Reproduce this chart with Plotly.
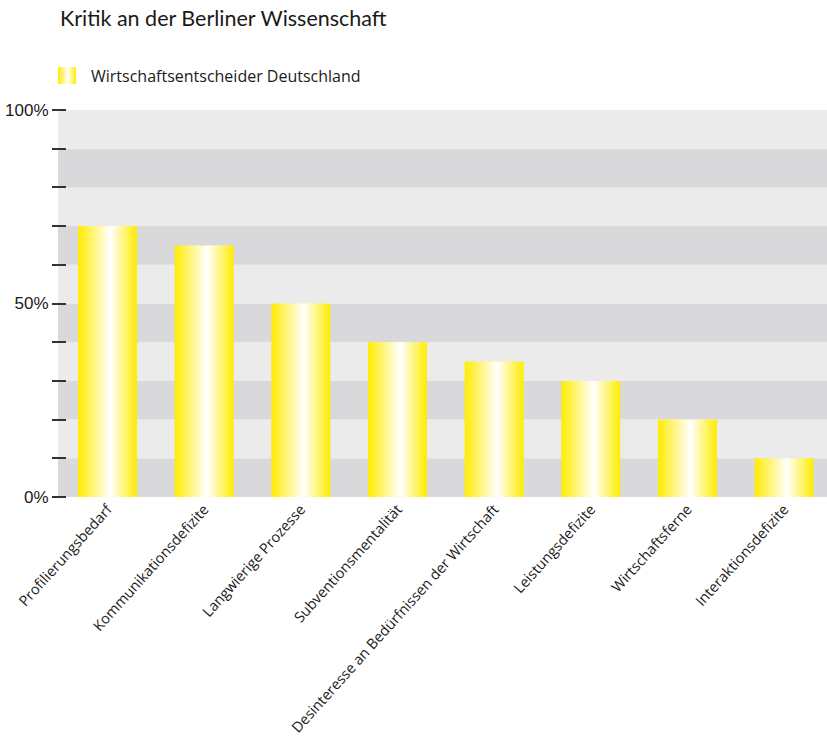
import plotly.graph_objects as go

# Survey results: criticism of Berlin's science sector
categories = [
    "Profilierungsbedarf",
    "Kommunikationsdefizite",
    "Langwierige Prozesse",
    "Subventionsmentalität",
    "Desinteresse an Bedürfnissen der Wirtschaft",
    "Leistungsdefizite",
    "Wirtschaftsferne",
    "Interaktionsdefizite",
]
values = [70, 65, 50, 40, 35, 30, 20, 10]
series_name = "Wirtschaftsentscheider Deutschland"
y_tick_values = [0, 10, 20, 30, 40, 50, 60, 70, 80, 90, 100]
y_tick_labels = ["0%", "", "", "", "", "50%", "", "", "", "", "100%"]

W, H = 827, 741
BAR_WIDTH = 0.61
YELLOW = "#ffec00"
gradient = [[0.0, YELLOW], [0.55, "#ffffff"], [1.0, YELLOW]]
TEXT = "#1a1a1a"

# page geometry in pixels
L, B = 58, 244
plot_top = 110
paper_w = W - L
paper_h = H - B
axis_left = 67


def px_x(px):
    return (px - L) / paper_w


def px_y(py):
    return 1 - py / paper_h


fig = go.Figure()

# each bar is a filled rectangle with a horizontal yellow-white-yellow gradient
for i, (cat, v) in enumerate(zip(categories, values)):
    x0, x1 = i - BAR_WIDTH / 2, i + BAR_WIDTH / 2
    fig.add_trace(go.Scatter(
        x=[x0, x1, x1, x0, x0],
        y=[0, 0, v, v, 0],
        mode="lines",
        fill="toself",
        line=dict(width=0, color=YELLOW),
        fillgradient=dict(type="horizontal", colorscale=gradient),
        name=series_name,
        showlegend=False,
        hovertemplate=f"{cat}: {v}%<extra></extra>",
    ))

# legend key: a small gradient swatch on its own mini axes
fig.add_trace(go.Scatter(
    x=[0, 1, 1, 0, 0], y=[0, 0, 1, 1, 0],
    xaxis="x2", yaxis="y2",
    mode="lines", fill="toself",
    line=dict(width=0, color=YELLOW),
    fillgradient=dict(type="horizontal", colorscale=gradient),
    showlegend=False, hoverinfo="skip",
))
fig.add_annotation(
    text=series_name, xref="paper", yref="paper",
    x=px_x(89), y=px_y(75.5), xanchor="left", yanchor="middle",
    showarrow=False, font=dict(family="Open Sans", size=16, color=TEXT),
)

# alternating grey bands every 10 %
for k in range(10):
    fig.add_shape(
        type="rect", xref="paper", yref="y",
        x0=0, x1=1, y0=k * 10, y1=(k + 1) * 10,
        fillcolor="#d9d9db" if k % 2 == 0 else "#ebebeb",
        line=dict(width=0), layer="below",
    )

fig.update_layout(
    width=W, height=H,
    margin=dict(l=L, r=0, t=0, b=B, autoexpand=False),
    paper_bgcolor="white",
    plot_bgcolor="rgba(0,0,0,0)",
    font=dict(family="Open Sans", color=TEXT),
    title=dict(
        text="Kritik an der Berliner Wissenschaft",
        xref="container", yref="container",
        x=60 / W, xanchor="left",
        y=1 - 18 / H, yanchor="middle",
        font=dict(family="Lato", size=21.5, color=TEXT),
    ),
    showlegend=False,
    xaxis=dict(
        domain=[px_x(axis_left), 1],
        range=[-0.419, 7.444],
        tickmode="array",
        tickvals=list(range(len(categories))),
        ticktext=categories,
        tickangle=-48,
        ticks="",
        showgrid=False, zeroline=False, showline=False,
        tickfont=dict(family="Open Sans", size=14.5, color=TEXT),
        fixedrange=True, automargin=False,
    ),
    yaxis=dict(
        domain=[0, px_y(plot_top)],
        range=[0, 100],
        tickmode="array",
        tickvals=y_tick_values,
        ticktext=y_tick_labels,
        ticks="outside", ticklen=14, tickwidth=2, tickcolor="#333333",
        showgrid=False, zeroline=False, showline=False,
        tickfont=dict(family="Liberation Sans", size=17, color=TEXT),
        fixedrange=True, automargin=False,
    ),
    xaxis2=dict(
        domain=[px_x(58), px_x(76)], range=[0, 1], anchor="y2",
        visible=False, fixedrange=True,
    ),
    yaxis2=dict(
        domain=[px_y(84), px_y(67)], range=[0, 1], anchor="x2",
        visible=False, fixedrange=True,
    ),
)

fig.write_html("out.html")
